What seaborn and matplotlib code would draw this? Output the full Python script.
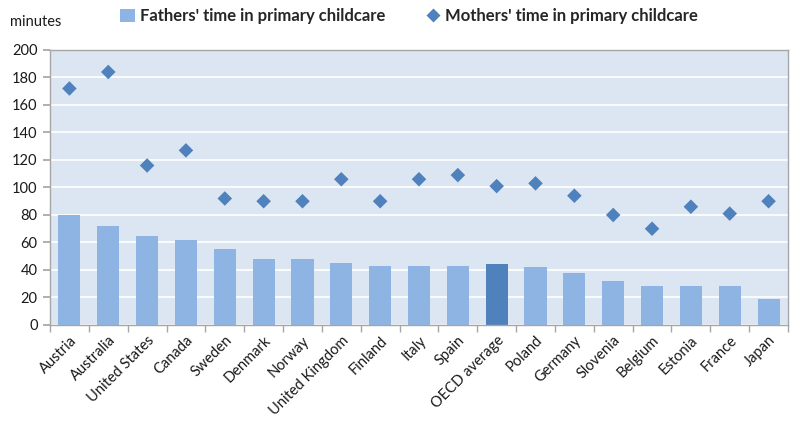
import matplotlib
matplotlib.use("Agg")
import matplotlib.pyplot as plt
import seaborn as sns
import pandas as pd
from matplotlib.lines import Line2D
from matplotlib.patches import Patch

countries = ["Austria", "Australia", "United States", "Canada", "Sweden", "Denmark",
             "Norway", "United Kingdom", "Finland", "Italy", "Spain", "OECD average",
             "Poland", "Germany", "Slovenia", "Belgium", "Estonia", "France", "Japan"]
fathers = [80, 72, 65, 62, 55, 48, 48, 45, 43, 43, 43, 44, 42, 38, 32, 28, 28, 28, 19]
mothers = [172, 184, 116, 127, 92, 90, 90, 106, 90, 106, 109, 101, 103, 94, 80, 70, 86, 81, 90]
yticks = list(range(0, 201, 20))

sns.set_theme(style="white")
plt.rcParams["font.family"] = ["Lato", "DejaVu Sans"]

df = pd.DataFrame({"country": countries, "fathers": fathers, "mothers": mothers})
bar_light = "#8DB4E2"
bar_dark = "#4F81BD"
palette = {c: (bar_dark if c == "OECD average" else bar_light) for c in countries}

fig = plt.figure(figsize=(8, 4.28), dpi=100)
ax = fig.add_axes([0.0625, 0.2407, 0.9225, 0.6425])
ax.set_facecolor("#DCE6F2")

sns.barplot(data=df, x="country", y="fathers", hue="country", palette=palette,
            width=0.57, legend=False, ax=ax, saturation=1, linewidth=0)
sns.scatterplot(data=df, x="country", y="mothers", marker="D", s=55,
                color="#4F81BD", edgecolor="none", ax=ax, zorder=3)

ax.set_ylim(0, 200)
ax.set_xlim(-0.5, len(countries) - 0.5)
ax.set_yticks(yticks)
ax.yaxis.grid(True, color="white", linewidth=1.2)
ax.set_axisbelow(True)
ax.set_xlabel("")
ax.set_ylabel("")
for s in ax.spines.values():
    s.set_color("#A6A6A6")
    s.set_linewidth(1)

ax.set_xticks(range(len(countries)))
ax.set_xticklabels(countries, rotation=45, ha="right", rotation_mode="anchor",
                   fontsize=10.5, color="#1a1a1a")
ax.set_xticks([i - 0.5 for i in range(len(countries) + 1)], minor=True)
ax.tick_params(axis="x", which="major", length=0, pad=6)
ax.tick_params(axis="x", which="minor", length=5, color="#A6A6A6", direction="out", bottom=True)
ax.tick_params(axis="y", length=5, color="#A6A6A6", direction="out", left=True,
               labelsize=10.5, labelcolor="#1a1a1a", pad=4)

fig.text(0.012, 0.948, "minutes", fontsize=10.5, color="#1a1a1a", va="center")

handles = [Patch(facecolor=bar_light, edgecolor="none"),
           Line2D([0], [0], marker="D", color="none", markerfacecolor="#4F81BD",
                  markeredgecolor="none", markersize=7)]
fig.legend(handles, ["Fathers' time in primary childcare", "Mothers' time in primary childcare"],
           loc="center", bbox_to_anchor=(0.511, 0.962), ncol=2, frameon=False,
           prop={"size": 12, "weight": "bold"}, handlelength=0.9, handleheight=0.9,
           handletextpad=0.3, columnspacing=2.42)

fig.savefig("out.png", dpi=100)
